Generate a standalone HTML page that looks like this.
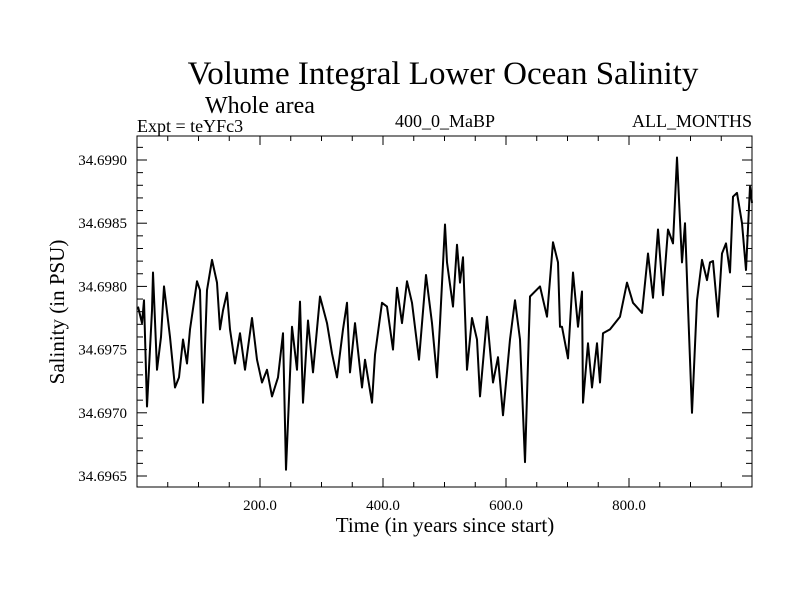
<!DOCTYPE html>
<html><head><meta charset="utf-8"><style>
html,body{margin:0;padding:0;background:#fff;}
svg text{font-family:"Liberation Serif",serif;fill:#000;}
</style></head><body>
<svg id="chart" width="800" height="600" xmlns="http://www.w3.org/2000/svg">
<rect x="0" y="0" width="800" height="600" fill="#fff"/>
<text x="443" y="84" font-size="33" text-anchor="middle">Volume Integral Lower Ocean Salinity</text>
<text x="205" y="113" font-size="24">Whole area</text>
<text x="137" y="132" font-size="18">Expt = teYFc3</text>
<text x="445" y="127" font-size="18" text-anchor="middle">400_0_MaBP</text>
<text x="752" y="127" font-size="18" text-anchor="end">ALL_MONTHS</text>
<text x="445" y="532" font-size="21" text-anchor="middle">Time (in years since start)</text>
<text transform="translate(64,312) rotate(-90)" font-size="21" text-anchor="middle">Salinity (in PSU)</text>
<g id="axes"></g>
<path id="series" fill="none" stroke="#000" stroke-width="2" stroke-linejoin="round"/>
<rect x="137" y="136" width="615" height="351" fill="none" stroke="#000" stroke-width="1"/>
</svg>
<script>
const years = [1.6,8.1,11.4,16.3,24.4,26.0,32.5,39.0,43.9,53.7,61.8,68.3,74.8,81.3,86.2,97.6,102.4,107.3,113.8,122.0,130.1,135.0,139.8,146.3,151.2,159.3,167.5,175.6,187.0,195.1,203.3,211.4,219.5,229.3,237.4,242.3,252.0,260.2,265.0,269.9,278.0,286.2,297.6,308.9,317.1,325.2,335.0,341.5,346.3,354.5,365.9,370.7,382.1,387.0,398.4,406.5,416.3,422.8,430.9,439.0,447.2,458.5,469.9,479.7,487.8,492.7,500.8,504.1,513.8,520.3,525.2,530.1,536.6,544.7,552.8,557.7,569.1,578.9,587.0,595.1,606.5,614.6,622.8,630.9,639.0,655.3,666.7,676.4,684.5,687.8,691.1,700.8,708.9,717.1,723.6,725.2,733.3,739.8,748.0,752.8,757.7,769.1,785.4,796.7,806.5,821.1,830.9,839.0,847.1,855.3,863.4,871.5,878.0,886.2,891.0,895.9,902.4,910.6,918.7,926.8,931.7,936.6,944.7,951.2,957.7,964.2,969.1,975.6,983.7,990.2,996.7,1000];
const salinity = [34.69784,34.69771,34.69789,34.69705,34.69781,34.69811,34.69734,34.6976,34.698,34.6976,34.6972,34.69728,34.69758,34.69739,34.69766,34.69804,34.69797,34.69708,34.69797,34.69821,34.69803,34.69766,34.69781,34.69795,34.69766,34.69739,34.69763,34.69734,34.69775,34.69742,34.69724,34.69734,34.69713,34.69728,34.69763,34.69655,34.69768,34.69734,34.69788,34.69708,34.69773,34.69732,34.69792,34.69771,34.69747,34.69728,34.69766,34.69787,34.69732,34.69771,34.6972,34.69742,34.69708,34.69746,34.69787,34.69784,34.6975,34.69799,34.69771,34.69804,34.69787,34.69742,34.69809,34.69771,34.69728,34.69771,34.69849,34.69819,34.69784,34.69833,34.69803,34.69823,34.69734,34.69775,34.69758,34.69713,34.69776,34.69724,34.69744,34.69698,34.69758,34.69789,34.69758,34.69661,34.69792,34.698,34.69776,34.69835,34.69819,34.69768,34.69768,34.69743,34.69811,34.69768,34.69796,34.69708,34.69755,34.6972,34.69755,34.69724,34.69763,34.69766,34.69776,34.69803,34.69787,34.69779,34.69826,34.69791,34.69845,34.69793,34.69845,34.69834,34.69902,34.69819,34.6985,34.69784,34.697,34.69789,34.69821,34.69805,34.69819,34.6982,34.69776,34.69826,34.69834,34.69811,34.69871,34.69874,34.6985,34.69813,34.69879,34.69866];
const xTickValues = [200,400,600,800];
const xTickLabels = ["200.0","400.0","600.0","800.0"];
const yTickValues = [34.6965,34.6970,34.6975,34.6980,34.6985,34.6990];
const yTickLabels = ["34.6965","34.6970","34.6975","34.6980","34.6985","34.6990"];

const X0=137, X1=752, YT=136, YB=487;
function xScale(v){ return X0 + (v-0)/(1000-0)*(X1-X0); }
function yScale(v){ return 160 + (34.6990 - v)/0.0005*63.2; }

const NS="http://www.w3.org/2000/svg";
const axes=document.getElementById('axes');
function line(x1,y1,x2,y2,name){
  const l=document.createElementNS(NS,'line');
  l.setAttribute('x1',x1);l.setAttribute('y1',y1);l.setAttribute('x2',x2);l.setAttribute('y2',y2);
  l.setAttribute('stroke','#000');l.setAttribute('stroke-width','1');
  
  
  axes.appendChild(l);
}
function text(x,y,s,anchor,name){
  const t=document.createElementNS(NS,'text');
  t.setAttribute('x',x);t.setAttribute('y',y);t.setAttribute('font-size','15');
  t.setAttribute('text-anchor',anchor);t.textContent=s;
  
  
  axes.appendChild(t);
}
for(let v=50; v<1000; v+=50){
  const x=xScale(v), major = (v%200===0);
  const L = major?9:5;
  line(x,YB,x,YB-L,'x-tick');
  line(x,YT,x,YT+L,'x-tick');
}
xTickValues.forEach((v,i)=>{ text(xScale(v),510,xTickLabels[i],'middle','x-tick-label'); });
for(let k=0;k<=30;k++){
  const v=34.6962+k*0.0001;
  const y=yScale(v);
  if(y<YT||y>YB) continue;
  const major = Math.abs(Math.round(v*2000)-v*2000)<1e-6;
  const L = major?10:6;
  line(X0,y,X0+L,y,'y-tick');
  line(X1,y,X1-L,y,'y-tick');
}
yTickValues.forEach((v,i)=>{ text(127,yScale(v)+5,yTickLabels[i],'end','y-tick-label'); });

let d='';
years.forEach((yr,i)=>{ d += (i?'L':'M') + xScale(yr).toFixed(1) + ' ' + yScale(salinity[i]).toFixed(1); });
document.getElementById('series').setAttribute('d',d);
</script>
</body></html>
